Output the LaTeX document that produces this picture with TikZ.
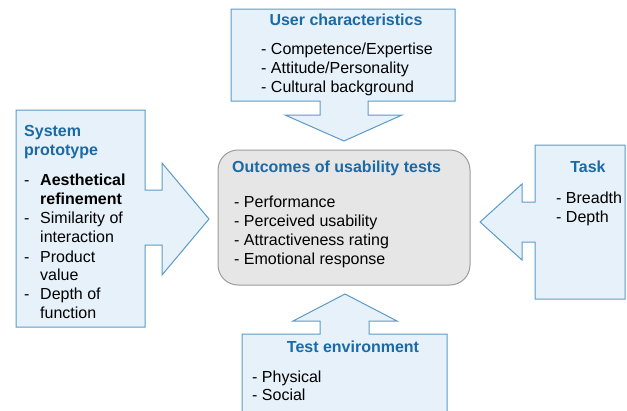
\documentclass[tikz,border=0pt]{standalone}
\usepackage{fontspec}
\setmainfont{Liberation Sans}
\usetikzlibrary{positioning}

\definecolor{boxfill}{HTML}{E6F1FA}
\definecolor{boxline}{HTML}{5B9BC8}
\definecolor{titleblue}{HTML}{1B6AA5}
\definecolor{midfill}{HTML}{E6E6E6}
\definecolor{midline}{HTML}{9C9C9C}

\begin{document}
\begin{tikzpicture}[x=1pt,y=-1pt,
	callout/.style={draw=boxline,fill=boxfill,line width=1pt},
	mid node/.style={draw=midline,fill=midfill,line width=1pt,rounded corners=20pt,
		minimum width=252pt,minimum height=135pt},
	head/.style={font=\fontsize{16}{19}\selectfont\bfseries,text=titleblue,inner sep=0pt},
	item/.style={font=\fontsize{16}{19}\selectfont,inner sep=0pt,anchor=base west}]
	
	\useasboundingbox (0,0) rectangle (627,410);
	\clip (0,0) rectangle (627,410);
	
	% centre box
	\node[mid node] (outcomes) at (344,217.5) {};
	\node[head,anchor=base west] (outT) at (232,172) {Outcomes of usability tests};
	\node[item] (out1) at (234,207) {- Performance};
	\node[item] (out2) at (234,226) {- Perceived usability};
	\node[item] (out3) at (234,245) {- Attractiveness rating};
	\node[item] (out4) at (234,264) {- Emotional response};
	
	% top callout
	\path[callout] (231,9) -- (455,9) -- (455,101) -- (368,101) -- (368,115)
	-- (402,115) -- (344,141) -- (285,115) -- (320,115) -- (320,101)
	-- (231,101) -- cycle;
	\node[head,anchor=base] (userT) at (346,25) {User characteristics};
	\node[item] (user1) at (261,54) {- Competence/Expertise};
	\node[item] (user2) at (261,73) {- Attitude/Personality};
	\node[item] (user3) at (261,92) {- Cultural background};
	
	% left callout
	\path[callout] (16,110) -- (145,110) -- (145,190) -- (162,190) -- (162,163)
	-- (209,219) -- (162,275) -- (162,245) -- (145,245) -- (145,327)
	-- (16,327) -- cycle;
	\node[head,anchor=base west] (sysT1) at (24,136) {System};
	\node[head,anchor=base west] (sysT2) at (24,155) {prototype};
	\node[item] (sysD1) at (24,185) {-};
	\node[item,font=\fontsize{16}{19}\selectfont\bfseries] (sys1) at (40,185) {Aesthetical};
	\node[item,font=\fontsize{16}{19}\selectfont\bfseries] (sys1b) at (40,204) {refinement};
	\node[item] (sysD2) at (24,223) {-};
	\node[item] (sys2) at (40,223) {Similarity of};
	\node[item] (sys2b) at (40,242) {interaction};
	\node[item] (sysD3) at (24,262) {-};
	\node[item] (sys3) at (40,262) {Product};
	\node[item] (sys3b) at (40,280) {value};
	\node[item] (sysD4) at (24,299) {-};
	\node[item] (sys4) at (40,299) {Depth of};
	\node[item] (sys4b) at (40,318) {function};
	
	% right callout
	\path[callout] (625,145) -- (535,145) -- (535,202) -- (522,202) -- (522,184)
	-- (480,222) -- (522,260) -- (522,242) -- (535,242) -- (535,299)
	-- (625,299) -- cycle;
	\node[head,anchor=base] (taskT) at (588,172) {Task};
	\node[item] (task1) at (556,203) {- Breadth};
	\node[item] (task2) at (556,222) {- Depth};
	
	% bottom callout
	\path[callout] (242,420) -- (242,334) -- (320,334) -- (320,321) -- (293,321)
	-- (345,294) -- (397,321) -- (369,321) -- (369,334) -- (447,334)
	-- (447,420) -- cycle;
	\node[head,anchor=base] (envT) at (353,352) {Test environment};
	\node[item] (env1) at (252,382) {- Physical};
	\node[item] (env2) at (252,400) {- Social};
	
\end{tikzpicture}
\end{document}
